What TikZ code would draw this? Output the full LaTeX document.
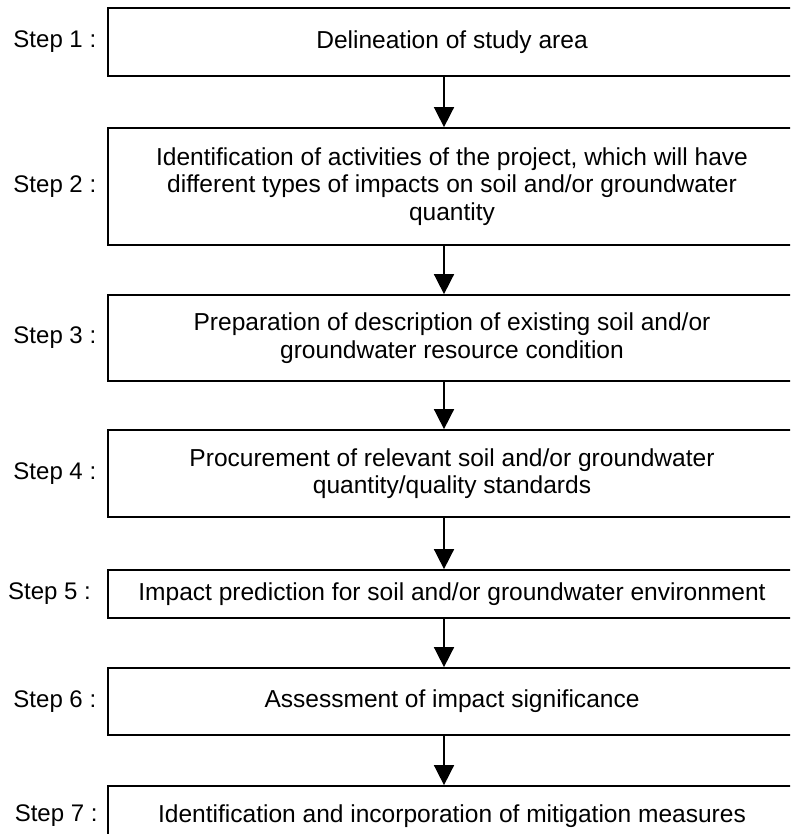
\documentclass[tikz,border=0pt]{standalone}
\usepackage{fontspec}
\setmainfont{Liberation Sans}
\usetikzlibrary{positioning, arrows.meta}

\tikzset{
  stepbox/.style={draw, line width=1.3pt, minimum width=516pt, inner sep=0pt,
    align=center, font=\fontsize{18.4}{20.5}\selectfont},
  steplabel/.style={inner sep=0pt, font=\fontsize{18}{20}\selectfont},
  flow/.style={-{Triangle[width=15pt,length=15pt]}, line width=1.2pt}
}

\begin{document}
\begin{tikzpicture}[x=0.75pt,y=-0.75pt]
  \useasboundingbox (0,0) rectangle (790,834);
  \clip (0,0) rectangle (790,834);
  % the seven steps
  \node[stepbox, minimum height=51pt] (s1) at (452,42) {Delineation of study area};
  \node[stepbox, minimum height=87.75pt] (s2) at (452,186.5)
    {Identification of activities of the project, which will have\\
     different types of impacts on soil and/or groundwater\\ quantity};
  \node[stepbox, minimum height=64.5pt] (s3) at (452,338)
    {Preparation of description of existing soil and/or\\ groundwater resource condition};
  \node[stepbox, minimum height=65.25pt] (s4) at (452,473.5)
    {Procurement of relevant soil and/or groundwater\\ quantity/quality standards};
  \node[stepbox, minimum height=36pt] (s5) at (452,594)
    {Impact prediction for soil and/or groundwater environment};
  \node[stepbox, minimum height=50.25pt] (s6) at (452,701.5)
    {Assessment of impact significance};
  \node[stepbox, minimum height=45pt] (s7) at (452,816)
    {Identification and incorporation of mitigation measures};
  % labels
  \node[steplabel, left=8pt of s1] (l1) {Step 1 :};
  \node[steplabel, left=8pt of s2] (l2) {Step 2 :};
  \node[steplabel, left=8pt of s3] (l3) {Step 3 :};
  \node[steplabel, left=8pt of s4] (l4) {Step 4 :};
  \node[steplabel, left=12pt of s5] (l5) {Step 5 :};
  \node[steplabel, left=8pt of s6] (l6) {Step 6 :};
  \node[steplabel, left=7pt of s7] (l7) {Step 7 :};
  % arrows
  \foreach \a/\b in {s1/s2, s2/s3, s3/s4, s4/s5, s5/s6, s6/s7}
    \draw[flow] ([xshift=-6pt]\a.south) -- ([xshift=-6pt]\b.north);
\end{tikzpicture}
\end{document}
